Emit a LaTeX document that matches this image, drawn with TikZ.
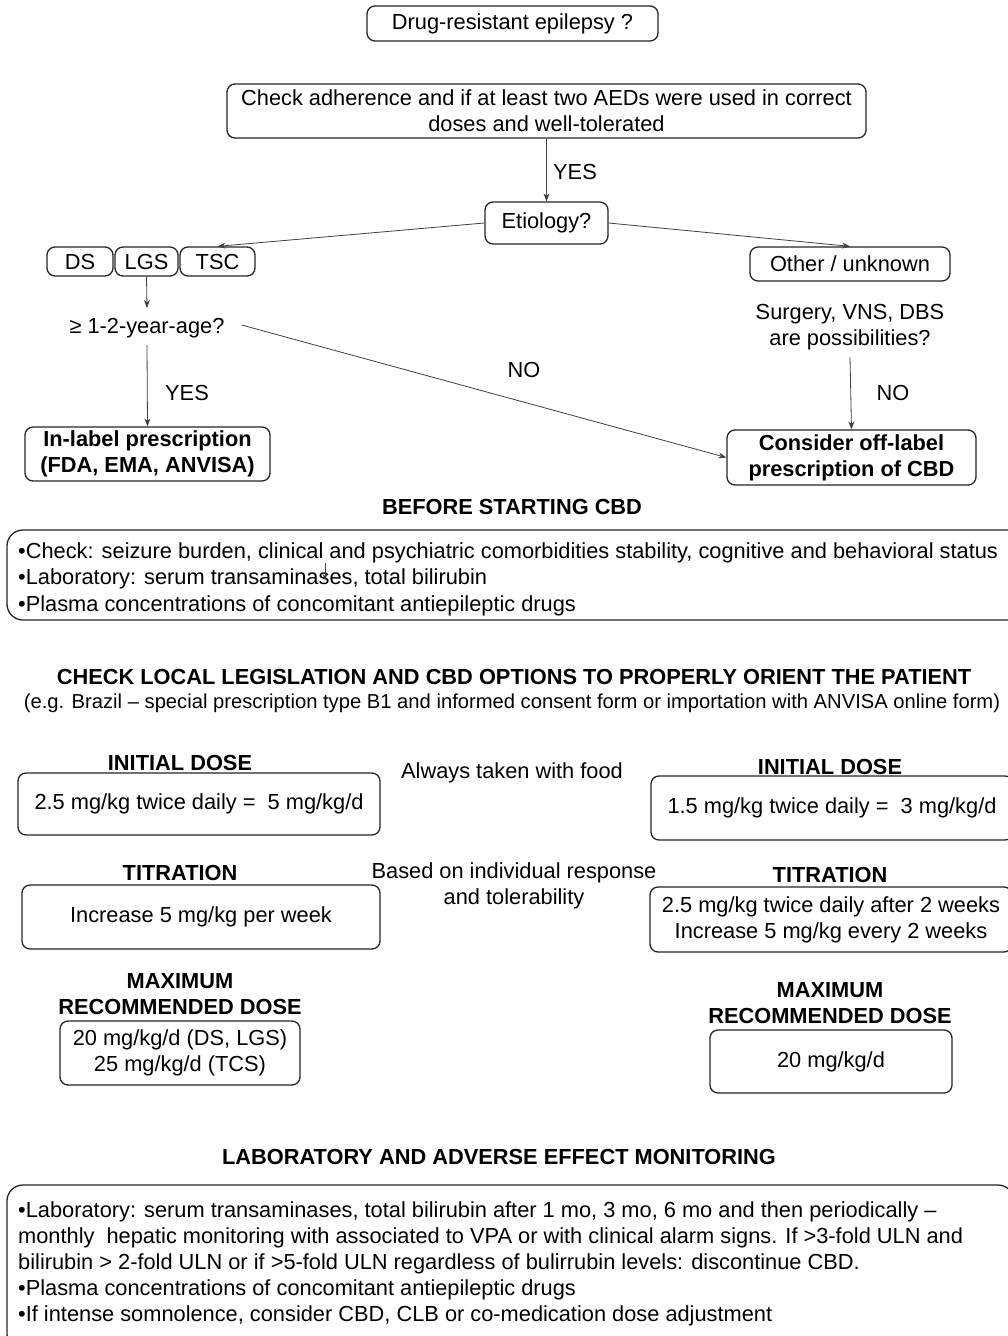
\documentclass[tikz,border=0pt]{standalone}
\usepackage{fontspec}
\setmainfont{Liberation Sans}
\usetikzlibrary{arrows.meta}
\begin{document}
\begin{tikzpicture}[x=1pt,y=-1pt,
  every node/.style={font=\fontsize{21.8}{26}\selectfont, inner sep=0pt},
  bx/.style={draw=black!85, line width=1.3pt, rounded corners=8pt, align=center},
  txt/.style={align=center},
  hd/.style={align=center, font=\fontsize{21.8}{26}\selectfont\bfseries},
  arr/.style={draw=black!75, line width=0.8pt, -{Stealth[length=8pt,width=6pt]}},
  bigbox/.style={draw=black!85, line width=1.3pt, rounded corners=16pt}]
\clip (0,0) rectangle (1008,1336);
\fill[white] (0,0) rectangle (1008,1336);

% top flow
\node[bx, minimum width=291pt, minimum height=35pt] (top) at (512.5,23.5) {Drug-resistant epilepsy ?};
\node[bx, minimum width=639pt, minimum height=54pt] (check) at (546.5,111) {Check adherence and if at least two AEDs were used in correct\\doses and well-tolerated};
\node[bx, minimum width=123pt, minimum height=42pt] (etio) at (546.5,223) {Etiology?};
\node[bx, minimum width=66pt, minimum height=29pt] (ds) at (80,261.5) {DS};
\node[bx, minimum width=63pt, minimum height=29pt] (lgs) at (146.5,261.5) {LGS};
\node[bx, minimum width=75pt, minimum height=29pt] (tsc) at (217.5,261.5) {TSC};
\node[bx, minimum width=200pt, minimum height=34pt] (other) at (850,264) {Other / unknown};
\node[txt] (age) at (147,328) {≥ 1-2-year-age?};
\node[bx, minimum width=245pt, minimum height=54pt, font=\fontsize{21.8}{26}\selectfont\bfseries] (inlabel) at (147.5,454) {In-label prescription\\(FDA, EMA, ANVISA)};
\node[txt] (surg) at (850,327) {Surgery, VNS, DBS\\are possibilities?};
\node[bx, minimum width=249pt, minimum height=55pt, font=\fontsize{21.8}{26}\selectfont\bfseries] (offlabel) at (851.5,457.5) {Consider off-label\\prescription of CBD};

\draw[arr] (check.south) -- (etio.north);
\node[txt] (yes1) at (575,172) {YES};
\draw[arr] (etio.west) -- (tsc.north);
\draw[arr] (etio.east) -- (other.north);
\draw[arr] (lgs.south) -- ([yshift=10pt]age.north);
\draw[arr] ([yshift=-7pt]age.south) -- (inlabel.north);
\node[txt] (yes2) at (187,393) {YES};
\draw[arr] ([xshift=17pt,yshift=3pt]age.east) -- (offlabel.west);
\node[txt] (no1) at (524,370) {NO};
\draw[arr] ([yshift=-7pt]surg.south) -- (offlabel.north);
\node[txt] (no2) at (893,393) {NO};

% before starting
\node[hd] (before) at (512,507) {BEFORE STARTING CBD};
\draw[bigbox] (7,530) rectangle (1040,620);
\node[anchor=base west, align=left] (b1) at (18,558) {•Check: seizure burden, clinical and psychiatric comorbidities stability, cognitive and behavioral status};
\node[anchor=base west, align=left] (b2) at (18,584) {•Laboratory: serum transaminases, total bilirubin};
\node[anchor=base west, align=left] (b3) at (18,611) {•Plasma concentrations of concomitant antiepileptic drugs};
\coordinate (s1) at (325,563);
\coordinate (s2) at (325,580);
\draw[draw=black!75, line width=0.8pt, -{Stealth[length=6pt,width=5pt]}] (s1) -- (s2);

% legislation
\node[hd] (leg) at (514,677) {CHECK LOCAL LEGISLATION AND CBD OPTIONS TO PROPERLY ORIENT THE PATIENT};
\node[txt, font=\fontsize{20.2}{24}\selectfont] (legsub) at (512,703) {(e.g. Brazil – special prescription type B1 and informed consent form or importation with ANVISA online form)};

% doses left
\node[hd] (lid) at (180,763) {INITIAL DOSE};
\node[bx, minimum width=362pt, minimum height=62pt] (lidbox) at (199,804) {2.5 mg/kg twice daily =\ \ 5 mg/kg/d};
\node[txt] (food) at (512,773) {Always taken with food};
\node[hd] (rid) at (830,767) {INITIAL DOSE};
\node[bx, minimum width=362pt, minimum height=64pt] (ridbox) at (832,808) {1.5 mg/kg twice daily =\ \ 3 mg/kg/d};

\node[hd] (ltit) at (180,873) {TITRATION};
\node[bx, minimum width=358pt, minimum height=64pt] (ltitbox) at (201,917) {Increase 5 mg/kg per week};
\node[txt] (based) at (514,886) {Based on individual response\\and tolerability};
\node[hd] (rtit) at (830,875) {TITRATION};
\node[bx, minimum width=362pt, minimum height=65pt] (rtitbox) at (831,919.5) {2.5 mg/kg twice daily after 2 weeks\\Increase 5 mg/kg every 2 weeks};

\node[hd] (lmax) at (180,994) {MAXIMUM\\RECOMMENDED DOSE};
\node[bx, minimum width=240pt, minimum height=64pt] (lmaxbox) at (180,1053) {20 mg/kg/d (DS, LGS)\\25 mg/kg/d (TCS)};
\node[hd] (rmax) at (830,1003) {MAXIMUM\\RECOMMENDED DOSE};
\node[bx, minimum width=242pt, minimum height=63pt] (rmaxbox) at (831,1061.5) {20 mg/kg/d};

% monitoring
\node[hd] (mon) at (499,1157) {LABORATORY AND ADVERSE EFFECT MONITORING};
\draw[bigbox] (7,1185) rectangle (1014,1350);
\node[anchor=base west, align=left] (m1) at (18,1217) {•Laboratory: serum transaminases, total bilirubin after 1 mo, 3 mo, 6 mo and then periodically –};
\node[anchor=base west, align=left] (m2) at (18,1243) {monthly\ \ hepatic monitoring with associated to VPA or with clinical alarm signs. If >3-fold ULN and};
\node[anchor=base west, align=left] (m3) at (18,1269) {bilirubin > 2-fold ULN or if >5-fold ULN regardless of bulirrubin levels: discontinue CBD.};
\node[anchor=base west, align=left] (m4) at (18,1295) {•Plasma concentrations of concomitant antiepileptic drugs};
\node[anchor=base west, align=left] (m5) at (18,1321) {•If intense somnolence, consider CBD, CLB or co-medication dose adjustment};
\end{tikzpicture}
\end{document}
